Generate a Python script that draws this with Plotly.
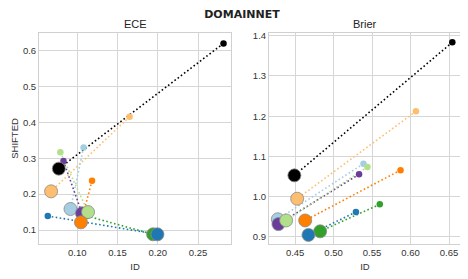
import plotly.graph_objects as go
from plotly.subplots import make_subplots

series = ["black", "lightorange", "lightblue", "purple", "lightgreen", "green", "blue", "orange"]
colors = ["#000000", "#fdbf6f", "#a6cee3", "#6a3d9a", "#b2df8a", "#33a02c", "#1f78b4", "#ff7f00"]

# ECE: small (first model) and big (second model)
ece_small_x = [0.2817, 0.165, 0.1079, 0.0829, 0.079, 0.1121, 0.0634, 0.1184]
ece_small_y = [0.620, 0.4157, 0.330, 0.292, 0.317, 0.139, 0.139, 0.2373]
ece_big_x = [0.0771, 0.0675, 0.0916, 0.1059, 0.1134, 0.1942, 0.1996, 0.1046]
ece_big_y = [0.271, 0.2077, 0.1585, 0.1465, 0.150, 0.088, 0.088, 0.1214]

# Brier
br_small_x = [0.6543, 0.607, 0.5388, 0.5331, 0.544, 0.560, 0.529, 0.587]
br_small_y = [1.3835, 1.212, 1.082, 1.0556, 1.074, 0.981, 0.962, 1.066]
br_big_x = [0.449, 0.4526, 0.4275, 0.4283, 0.4383, 0.4825, 0.4673, 0.463]
br_big_y = [1.053, 0.995, 0.944, 0.932, 0.941, 0.914, 0.905, 0.941]

fig = make_subplots(rows=1, cols=2, horizontal_spacing=0.09,
                    subplot_titles=("ECE", "Brier"))

def add_panel(col, sx, sy, bx, by):
    for i, c in enumerate(colors):
        fig.add_trace(go.Scatter(x=[sx[i], bx[i]], y=[sy[i], by[i]], mode="lines",
                                 line=dict(color=c, width=1.6, dash="1.6px,2.4px"),
                                 showlegend=False, hoverinfo="skip"), row=1, col=col)
    for i, c in enumerate(colors):
        fig.add_trace(go.Scatter(x=[sx[i]], y=[sy[i]], mode="markers",
                                 marker=dict(color=c, size=6.5, line=dict(width=0)),
                                 showlegend=False), row=1, col=col)
    for i, c in enumerate(colors):
        fig.add_trace(go.Scatter(x=[bx[i]], y=[by[i]], mode="markers",
                                 marker=dict(color=c, size=13, line=dict(width=0.8, color="#8a8a8a")),
                                 showlegend=False), row=1, col=col)

add_panel(1, ece_small_x, ece_small_y, ece_big_x, ece_big_y)
add_panel(2, br_small_x, br_small_y, br_big_x, br_big_y)

axis_common = dict(showgrid=True, gridcolor="#d6d6d6", gridwidth=1, zeroline=False,
                   showline=True, linecolor="#d0d0d0", linewidth=1, mirror=True,
                   automargin=False,
                   ticks="", tickfont=dict(size=9.5, color="#333333", family="Liberation Sans"))

fig.update_xaxes(**axis_common)
fig.update_yaxes(**axis_common)

fig.update_xaxes(range=[0.0525, 0.291], tickvals=[0.10, 0.15, 0.20, 0.25], tickformat=".2f",
                 domain=[0, 0.455], row=1, col=1)
fig.update_yaxes(range=[0.061, 0.649], tickvals=[0.1, 0.2, 0.3, 0.4, 0.5, 0.6], tickformat=".1f",
                 row=1, col=1)
fig.update_xaxes(range=[0.416, 0.6656], tickvals=[0.45, 0.50, 0.55, 0.60, 0.65], tickformat=".2f",
                 domain=[0.545, 1], row=1, col=2)
fig.update_yaxes(range=[0.8825, 1.4067], tickvals=[0.9, 1.0, 1.1, 1.2, 1.3, 1.4], tickformat=".1f",
                 row=1, col=2)

lab = dict(size=9.5, color="#333333", family="Liberation Sans")
fig.update_xaxes(title=dict(text="ID", font=lab, standoff=5), row=1, col=1)
fig.update_xaxes(title=dict(text="ID", font=lab, standoff=5), row=1, col=2)
fig.update_yaxes(title=dict(text="SHIFTED", font=lab, standoff=2), row=1, col=1)

for ann in fig.layout.annotations:
    ann.font = dict(size=11, color="#222222", family="Liberation Sans")
    ann.yshift = 1

fig.update_layout(
    width=460, height=271,
    margin=dict(l=31, r=7, t=25, b=35),
    paper_bgcolor="white", plot_bgcolor="white",
    title=dict(text="<b>DOMAINNET</b>", x=0.481, xref="paper", xanchor="center",
               y=0.991, yref="container", yanchor="top", pad=dict(t=0, b=0),
               font=dict(size=11, color="#222222", family="DejaVu Sans")),
)

fig.write_html("out.html")
